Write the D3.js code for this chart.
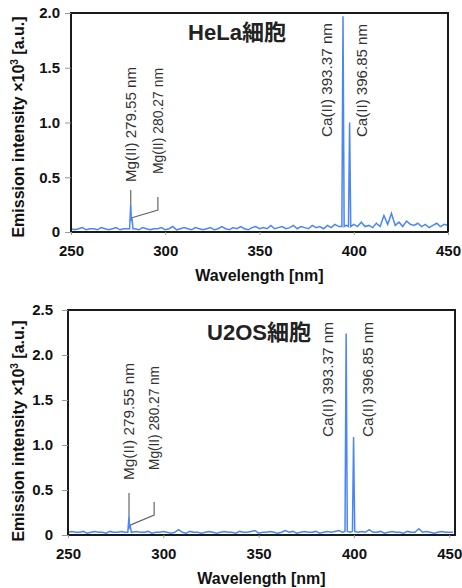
<!DOCTYPE html>
<html lang="ja">
<head>
  <meta charset="UTF-8">
  <title>Emission spectra</title>
  <style>
    body { margin: 0; background: #fff; }
    text { font-family: "Liberation Sans", Arial, "Noto Sans CJK JP", sans-serif; }
  </style>
</head>
<body>
  <div id="main"></div>
  <script src="https://cdn.jsdelivr.net/npm/d3@7"></script>
  <script>
  // ---- data ----
  const xTicks = [250, 300, 350, 400, 450]
  const helaYTicks = [0, 0.5, 1.0, 1.5, 2.0]
  const u2osYTicks = [0, 0.5, 1.0, 1.5, 2.0, 2.5]

  // background noise, sampled every 2 nm
  const helaGrid = d3.range(250, 451, 2)
  const helaBackground = [
    0.03, 0.02, 0.03, 0.04, 0.02, 0.03, 0.03, 0.02, 0.04, 0.03, 0.02, 0.03, 0.04, 0.02, 0.03, 0.03,
    0.02, 0.03, 0.02, 0.04, 0.03, 0.02, 0.03, 0.03, 0.04, 0.02, 0.03, 0.05, 0.02, 0.03, 0.04, 0.03, 0.02, 0.04, 0.03, 0.02,
    0.03, 0.04, 0.02, 0.03, 0.05, 0.03, 0.02, 0.04, 0.03, 0.05, 0.03, 0.02, 0.04, 0.05, 0.03, 0.04, 0.03, 0.06, 0.03, 0.04,
    0.05, 0.03, 0.04, 0.06, 0.03, 0.05, 0.04, 0.03, 0.06, 0.04, 0.05, 0.03, 0.06, 0.04, 0.07, 0.05, 0.04, 0.06, 0.05, 0.07,
    0.05, 0.09, 0.05, 0.06, 0.04, 0.08, 0.05, 0.15, 0.07, 0.17, 0.06, 0.09, 0.05, 0.10, 0.07, 0.06, 0.08, 0.05, 0.07, 0.04,
    0.06, 0.08, 0.05, 0.07, 0.06
  ]
  const u2osGrid = d3.range(250, 453, 2)
  const u2osBackground = [
    0.03, 0.04, 0.03, 0.03, 0.04, 0.02, 0.03, 0.04, 0.03, 0.03, 0.02, 0.04, 0.03, 0.03, 0.04, 0.03,
    0.03, 0.02, 0.04, 0.03, 0.03, 0.04, 0.02, 0.03, 0.03, 0.04, 0.03, 0.02, 0.03, 0.06, 0.03, 0.02, 0.04, 0.03, 0.03, 0.02,
    0.03, 0.04, 0.03, 0.02, 0.03, 0.04, 0.03, 0.03, 0.02, 0.04, 0.03, 0.03, 0.04, 0.05, 0.02, 0.03, 0.03, 0.04, 0.03, 0.02,
    0.03, 0.05, 0.03, 0.04, 0.02, 0.03, 0.04, 0.03, 0.03, 0.04, 0.02, 0.03, 0.04, 0.03, 0.04, 0.05, 0.03, 0.04, 0.03, 0.03,
    0.03, 0.04, 0.03, 0.06, 0.03, 0.03, 0.04, 0.02, 0.03, 0.04, 0.03, 0.03, 0.02, 0.04, 0.03, 0.03, 0.07, 0.03, 0.04, 0.03,
    0.02, 0.03, 0.04, 0.03, 0.03, 0.03
  ]

  // emission lines, at the positions where they sit in the picture
  const helaPeakWl = [281.1, 281.7, 282.0, 282.3, 282.9, 393.7, 394.3, 394.9, 397.2, 397.8, 398.4]
  const helaPeakVal = [0.03, 0.26, 0.10, 0.13, 0.03, 0.05, 1.97, 0.05, 0.05, 1.00, 0.05]
  const u2osPeakWl = [281.4, 282.0, 282.3, 282.6, 283.2, 395.3, 395.9, 396.5, 399.2, 399.8, 400.4]
  const u2osPeakVal = [0.03, 0.21, 0.07, 0.11, 0.03, 0.04, 2.24, 0.04, 0.04, 1.09, 0.04]

  const lineLabels = ["Mg(II) 279.55 nm", "Mg(II) 280.27 nm", "Ca(II) 393.37 nm", "Ca(II) 396.85 nm"]
  const helaLabelPeaks = [1, 3, 6, 9]   // index into helaPeakWl
  const u2osLabelPeaks = [1, 3, 6, 9]

  const blue = "#4a86f5"

  let svg = d3.select('#main').append('svg')
    .attr('width', 462)
    .attr('height', 588)

  function yFmt(d) {
    return d === 0 ? "0" : d3.format(".1f")(d)
  }

  function drawPanel(p) {
    let g = svg.append('g')
    let x = d3.scaleLinear().domain(p.xDomain).range([p.left, p.right])
    let y = d3.scaleLinear().domain([0, p.yMax]).range([p.bottom, p.top])

    // spectrum: background + emission lines
    let pts = p.grid.map((w, i) => [w, p.bg[i]])
      .filter(d => !p.peakWl.some(w => Math.abs(w - d[0]) < 0.9))
      .concat(p.peakWl.map((w, i) => [w, p.peakVal[i]]))
      .sort((a, b) => a[0] - b[0])

    let clipId = 'clip' + p.id
    svg.append('clipPath').attr('id', clipId)
      .append('rect')
      .attr('x', p.left).attr('y', p.top - 2)
      .attr('width', p.right - p.left).attr('height', p.bottom - p.top + 2)

    g.append('path')
      .datum(pts)
      .attr('clip-path', 'url(#' + clipId + ')')
      .attr('d', d3.line().x(d => x(d[0])).y(d => y(d[1])))
      .attr('fill', 'none')
      .attr('stroke', blue)
      .attr('stroke-width', 1.5)

    // frame
    g.append('rect')
      .attr('x', p.left).attr('y', p.top)
      .attr('width', p.right - p.left).attr('height', p.bottom - p.top)
      .attr('fill', 'none')
      .attr('stroke', '#1a1a1a')
      .attr('stroke-width', 2)

    // axes
    let ya = g.append('g')
      .attr('transform', `translate(${p.left},0)`)
      .call(d3.axisLeft(y).tickValues(p.yTicks).tickFormat(yFmt).tickSize(6).tickPadding(p.yPad))
    let xa = g.append('g')
      .attr('transform', `translate(0,${p.bottom})`)
      .call(d3.axisBottom(x).tickValues(xTicks).tickSize(3).tickPadding(10))
    ;[ya, xa].forEach(a => {
      a.select('.domain').remove()
      a.selectAll('line').attr('stroke', '#999')
      a.selectAll('text')
        .attr('font-size', 15)
        .attr('font-weight', 'bold')
        .attr('fill', '#111')
        .style('font-family', '"Liberation Sans", Arial, sans-serif')
    })

    // axis titles
    g.append('text')
      .attr('x', (p.left + p.right) / 2)
      .attr('y', p.xTitleY)
      .attr('text-anchor', 'middle')
      .attr('font-size', 16)
      .attr('font-weight', 'bold')
      .attr('fill', '#111')
      .text('Wavelength [nm]')

    let yt = g.append('text')
      .attr('transform', `translate(24,${p.yTitleCy}) rotate(-90)`)
      .attr('text-anchor', 'middle')
      .attr('font-size', 16)
      .attr('font-weight', 'bold')
      .attr('fill', '#111')
    yt.append('tspan').text('Emission intensity ×10')
    yt.append('tspan').attr('font-size', 10).attr('dy', -6).text('3')
    yt.append('tspan').attr('dy', 6).text(' [a.u.]')

    // panel title
    g.append('text')
      .attr('x', p.titleX)
      .attr('y', p.titleY)
      .attr('text-anchor', 'middle')
      .attr('font-size', 22)
      .attr('font-weight', 'bold')
      .attr('fill', '#222')
      .text(p.title)

    // line labels + leaders
    p.labelPeaks.forEach((pi, i) => {
      let L = p.labels[i]
      let px = x(p.peakWl[pi])
      let py = y(p.peakVal[pi])
      let lx = px + L.dx
      g.append('text')
        .attr('transform', `translate(${lx},${L.bottom}) rotate(-90)`)
        .attr('dy', '0.35em')
        .attr('font-size', 15)
        .attr('fill', '#333')
        .attr('textLength', L.len)
        .attr('lengthAdjust', 'spacingAndGlyphs')
        .text(lineLabels[i])
      if (L.leader === 'straight') {
        g.append('path')
          .attr('d', `M${px},${L.bottom + L.y1}V${py}`)
          .attr('fill', 'none').attr('stroke', '#666').attr('stroke-width', 1.2)
      } else if (L.leader === 'bent') {
        g.append('path')
          .attr('d', `M${lx},${L.bottom + L.y1}V${L.bottom + L.y2}L${px},${py}`)
          .attr('fill', 'none').attr('stroke', '#666').attr('stroke-width', 1.2)
      }
    })
  }

  function main() {
    drawPanel({
      id: 'hela', title: 'HeLa細胞', titleX: 237, titleY: 40,
      xDomain: [250, 450], left: 71, right: 448, top: 13, bottom: 232,
      yMax: 2.0, yTicks: helaYTicks, yPad: 5,
      grid: helaGrid, bg: helaBackground, peakWl: helaPeakWl, peakVal: helaPeakVal,
      labelPeaks: helaLabelPeaks,
      xTitleY: 281, yTitleCy: 127,
      labels: [
        { dx: 0, bottom: 182, len: 115, leader: 'straight', y1: 8 },
        { dx: 26, bottom: 174, len: 106, leader: 'bent', y1: 23, y2: 36 },
        { dx: -16.5, bottom: 137, len: 114 },
        { dx: 12.5, bottom: 137, len: 113 }
      ]
    })
    drawPanel({
      id: 'u2os', title: 'U2OS細胞', titleX: 259, titleY: 340,
      xDomain: [250, 453], left: 68, right: 455, top: 310, bottom: 535,
      yMax: 2.5, yTicks: u2osYTicks, yPad: 9,
      grid: u2osGrid, bg: u2osBackground, peakWl: u2osPeakWl, peakVal: u2osPeakVal,
      labelPeaks: u2osLabelPeaks,
      xTitleY: 584, yTitleCy: 431,
      labels: [
        { dx: 0, bottom: 480, len: 117, leader: 'straight', y1: 13 },
        { dx: 24, bottom: 470, len: 104, leader: 'bent', y1: 32, y2: 45 },
        { dx: -18, bottom: 437, len: 115 },
        { dx: 14, bottom: 437, len: 115 }
      ]
    })
  }

  main()
  </script>
</body>
</html>
